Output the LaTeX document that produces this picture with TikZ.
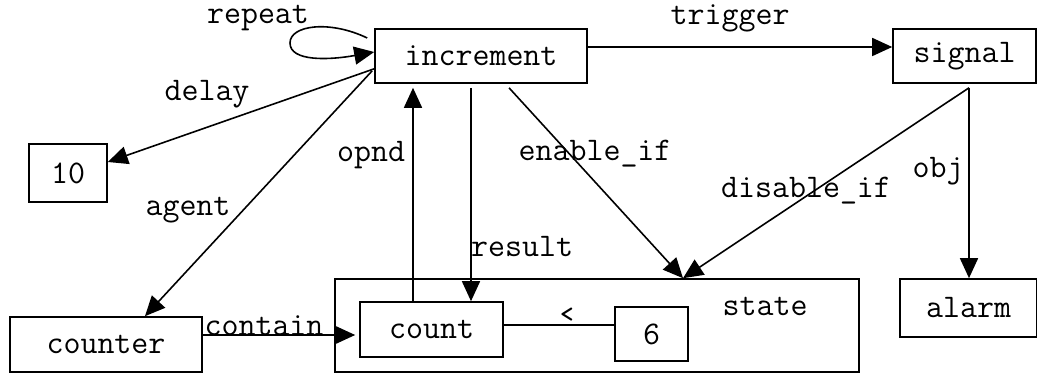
\documentclass[tikz,border=0pt]{standalone}
\usepackage{fontspec}
\usetikzlibrary{arrows.meta,calc}
\begin{document}
\begin{tikzpicture}[x=0.5pt,y=-0.5pt,
  every node/.style={font=\ttfamily\fontsize{16.5}{19}\selectfont},
  box/.style={draw,line width=0.8pt,inner sep=0pt},
  lbl/.style={inner sep=0pt},
  conn/.style={line width=0.8pt},
  arr/.style={conn,-{Triangle[length=10pt,width=9pt]}}]
\useasboundingbox (0,0) rectangle (1037,373);

% concept boxes
\node[box,minimum width=106pt,minimum height=27pt] (inc) at (481,56) {increment};
\node[box,minimum width=71.5pt,minimum height=27pt] (sig) at (964.5,56) {signal};
\node[box,minimum width=39pt,minimum height=29pt] (ten) at (68,173) {10};
\node[box,minimum width=96pt,minimum height=27.5pt] (counter) at (106,344.5) {counter};
\node[box,minimum width=262pt,minimum height=46.5pt] (state) at (597,325.5) {};
\node[lbl] (statelbl) at (765,306) {state};
\node[box,minimum width=71.5pt,minimum height=27.5pt] (count) at (431.5,329.5) {count};
\node[box,minimum width=36.5pt,minimum height=27pt] (six) at (651.5,334) {6};
\node[box,minimum width=68.5pt,minimum height=29pt] (alarm) at (968.5,308) {alarm};

% relations
\draw[arr] ($(inc.west)+(-7,-18)$) .. controls (330,20) and (290,25) .. (290,43)
           .. controls (290,62) and (330,60) .. ($(inc.west)+(0,-4)$);
\node[lbl] at (258,18) {repeat};

\draw[arr] ($(inc.east)+(0,-9)$) -- ($(sig.west)+(0,-9)$);
\node[lbl] at (730,18) {trigger};

\draw[arr] ($(inc.south west)+(0,-15)$) -- ($(ten.east)+(0,-11)$);
\node[lbl] at (207,94) {delay};

\draw[arr] ($(inc.south west)+(-2,-13)$) -- ($(counter.north)+(39,0)$);
\node[lbl] at (188,210) {agent};

\draw[arr] ($(count.north)+(-18.5,0)$) -- ($(inc.south)+(-68,4)$);
\node[lbl] at (371,155) {opnd};

\draw[arr] ($(inc.south)+(-10,4)$) -- ($(count.north)+(39.5,0)$);
\node[lbl] at (522,247) {result};

\draw[arr] ($(inc.south)+(28,4)$) -- ($(state.north)+(86,0)$);
\node[lbl] at (595,154) {enable\_if};

\draw[arr] ($(sig.south)+(4.5,4)$) -- ($(state.north)+(86,0)$);
\node[lbl] at (806,191) {disable\_if};

\draw[arr] ($(sig.south)+(4.5,4)$) -- ($(alarm.north)+(0.5,0)$);
\node[lbl] at (938,171) {obj};

\draw[arr,shorten >=2pt] ($(counter.east)+(0,-9.5)$) -- ($(count.west)+(0,5.5)$);
\node[lbl] at (264,326) {contain};

\draw[conn] ($(count.east)+(0,-4.5)$) -- ($(six.west)+(0,-9)$);
\node[lbl,font=\ttfamily\bfseries\fontsize{13}{15}\selectfont] at (567,315) {<};
\end{tikzpicture}
\end{document}
